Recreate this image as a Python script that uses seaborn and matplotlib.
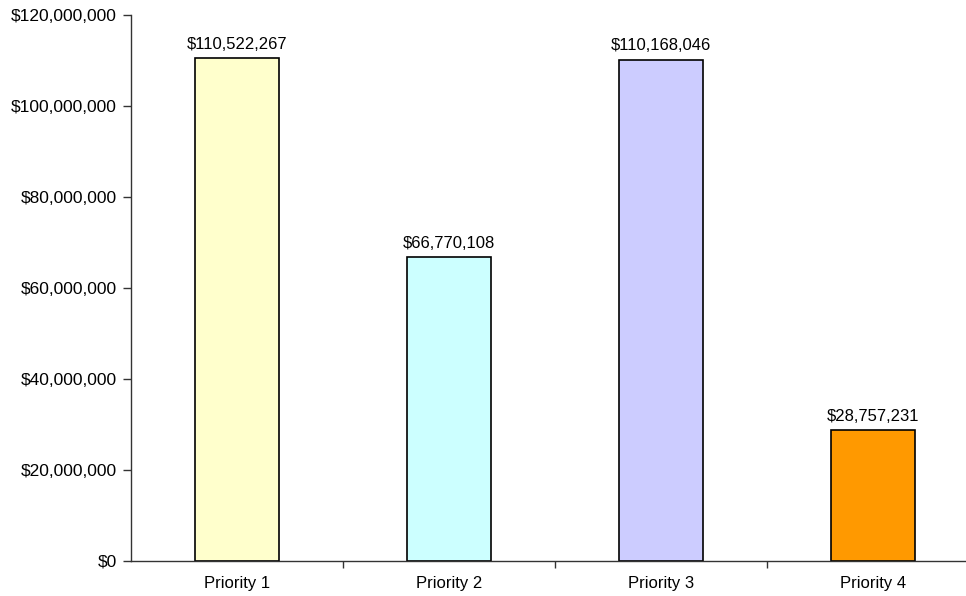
import pandas as pd
import matplotlib.pyplot as plt
import seaborn as sns
from matplotlib.ticker import FuncFormatter, FixedLocator

# Datos
categories = ["Priority 1", "Priority 2", "Priority 3", "Priority 4"]
values = [110522267, 66770108, 110168046, 28757231]
colors = ["#FFFFCC", "#CCFFFF", "#CCCCFF", "#FF9900"]

df = pd.DataFrame({"Priority": categories, "Amount": values})

sns.set_style("white")
plt.rcParams['font.family'] = ['Liberation Sans', 'DejaVu Sans']
plt.rcParams['text.color'] = "black"

fig = plt.figure(figsize=(9.66, 5.96), dpi=100)
ax = fig.add_axes([131 / 966, 35 / 596, 848 / 966, 546 / 596])

sns.barplot(data=df, x="Priority", y="Amount", hue="Priority", palette=colors,
            saturation=1, width=0.4, edgecolor="black", linewidth=1.2,
            legend=False, ax=ax)

ax.set_xlim(-0.5, 3.5)
ax.set_ylim(0, 120000000)
ax.set_yticks(range(0, 120000001, 20000000))
ax.yaxis.set_major_formatter(FuncFormatter(lambda v, p: "${:,.0f}".format(v)))

# ticks entre categorias
ax.xaxis.set_minor_locator(FixedLocator([0.5, 1.5, 2.5]))
ax.tick_params(axis="x", which="major", bottom=True, length=0, pad=11, labelsize=12, labelcolor="black")
ax.tick_params(axis="x", which="minor", bottom=True, length=5, width=1, direction="out", color="#333333")
ax.tick_params(axis="y", left=True, length=6, width=1, direction="out", labelsize=12.5, pad=4,
               color="#333333", labelcolor="black")
ax.set_xlabel("")
ax.set_ylabel("")

for s in ["top", "right"]:
    ax.spines[s].set_visible(False)
for s in ["left", "bottom"]:
    ax.spines[s].set_color("#333333")
    ax.spines[s].set_linewidth(1)

for i, v in enumerate(values):
    ax.text(i, v + 1400000, "${:,.0f}".format(v), ha="center", va="bottom", fontsize=12, color="black")

plt.savefig("out.png", dpi=100)
plt.close()
